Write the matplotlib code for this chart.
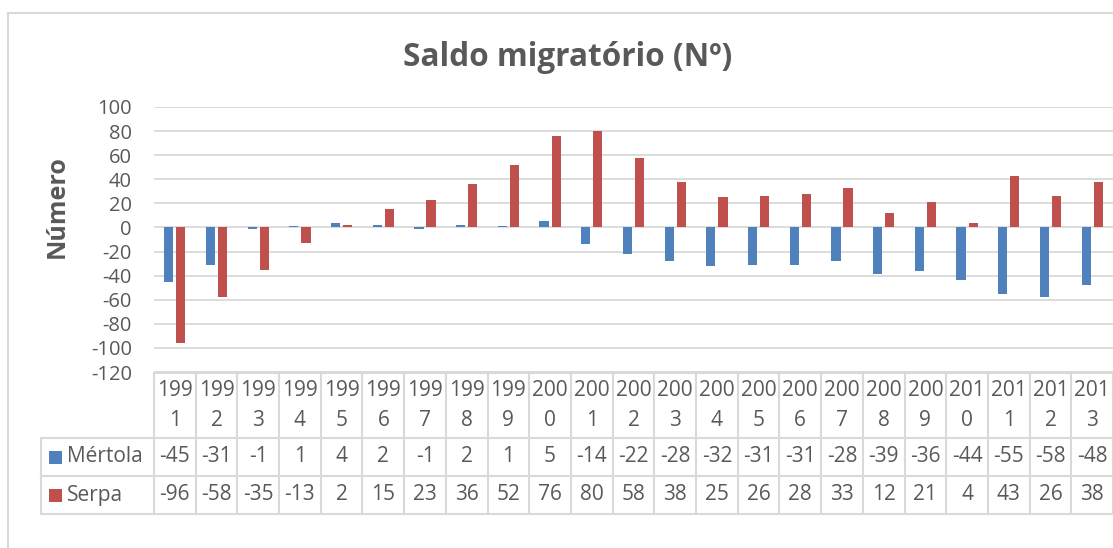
import matplotlib
matplotlib.use("Agg")
import numpy as np
from matplotlib import pyplot as plt
from matplotlib.transforms import blended_transform_factory
from matplotlib.patches import Rectangle

plt.rcParams['font.family'] = ['Open Sans', 'DejaVu Sans']
plt.rcParams['axes.unicode_minus'] = False

years = list(range(1991, 2014))
mertola = [-45, -31, -1, 1, 4, 2, -1, 2, 1, 5, -14, -22, -28, -32, -31, -31, -28, -39, -36, -44, -55, -58, -48]
serpa = [-96, -58, -35, -13, 2, 15, 23, 36, 52, 76, 80, 58, 38, 25, 26, 28, 33, 12, 21, 4, 43, 26, 38]
series_names = ['Mértola', 'Serpa']
colors = ['#4F81BD', '#C0504D']
grid_col = '#D9D9D9'
txt_col = '#595959'

W, H = 1113, 548
fig = plt.figure(figsize=(W / 100, H / 100), dpi=100)


def fy(py):
    # pixel row (from top) -> figure fraction
    return 1 - py / H


def fx(px):
    return px / W


ax_left, ax_right, ax_top, ax_bot = 154, 1113, 107, 372
ax = fig.add_axes([fx(ax_left), fy(ax_bot), fx(ax_right - ax_left), (ax_bot - ax_top) / H])

x = np.arange(len(years))
ax.bar(x - 0.145, mertola, width=0.22, color=colors[0], zorder=3)
ax.bar(x + 0.145, serpa, width=0.22, color=colors[1], zorder=3)

ax.set_xlim(-0.5, len(years) - 0.5)
ax.set_ylim(-120, 100)
ax.set_yticks(np.arange(-120, 101, 20))
ax.yaxis.grid(True, color=grid_col, linewidth=1.3, zorder=0)
ax.set_xticks([])
for s in ax.spines.values():
    s.set_visible(False)
ax.tick_params(axis='y', length=0, pad=16, labelsize=14.5, labelcolor=txt_col)

# title and axis label
fig.text(fx(568), fy(58), 'Saldo migratório (Nº)', ha='center', va='center',
         fontsize=22.7, fontweight='bold', color=txt_col)
fig.text(fx(57), fy(207), 'Número', ha='center', va='center', rotation=90,
         fontsize=18, fontweight='bold', color=txt_col)

# data table under the chart
tr = blended_transform_factory(ax.transData, fig.transFigure)
y_top, y_h, y_r1, y_r2 = 373, 438, 476, 514
line_kw = dict(color=grid_col, linewidth=1.5, clip_on=False)

fig.add_artist(plt.Line2D([-0.5, len(years) - 0.5], [fy(y_top)] * 2, transform=tr, **line_kw))
for yy in (y_h, y_r1, y_r2):
    fig.add_artist(plt.Line2D([fx(41), 1.0], [fy(yy)] * 2, transform=fig.transFigure, **line_kw))
fig.add_artist(plt.Line2D([fx(41)] * 2, [fy(y_h), fy(y_r2)], transform=fig.transFigure, **line_kw))
for i in range(len(years) + 1):
    fig.add_artist(plt.Line2D([i - 0.5] * 2, [fy(y_top), fy(y_r2)], transform=tr, **line_kw))

fs = 15
for i, yr in enumerate(years):
    s = str(yr)
    fig.text(i, fy(391), s[:3], transform=tr, ha='center', va='center', fontsize=fs, color=txt_col)
    fig.text(i, fy(420), s[3:], transform=tr, ha='center', va='center', fontsize=fs, color=txt_col)
    fig.text(i, fy(457), str(mertola[i]), transform=tr, ha='center', va='center', fontsize=fs, color=txt_col)
    fig.text(i, fy(495), str(serpa[i]), transform=tr, ha='center', va='center', fontsize=fs, color=txt_col)

for name, col, yc in zip(series_names, colors, (457, 495)):
    fig.add_artist(Rectangle((fx(49), fy(yc + 6.5)), fx(13), 13 / H, transform=fig.transFigure,
                             facecolor=col, edgecolor='none'))
    fig.text(fx(67), fy(yc), name, ha='left', va='center', fontsize=fs, color=txt_col)

# chart border
fig.add_artist(plt.Line2D([fx(8), 1.0], [fy(13)] * 2, transform=fig.transFigure, color=grid_col, linewidth=1.5))
fig.add_artist(plt.Line2D([fx(8)] * 2, [fy(13), 0.0], transform=fig.transFigure, color=grid_col, linewidth=1.5))

fig.savefig('out.png', dpi=100)
